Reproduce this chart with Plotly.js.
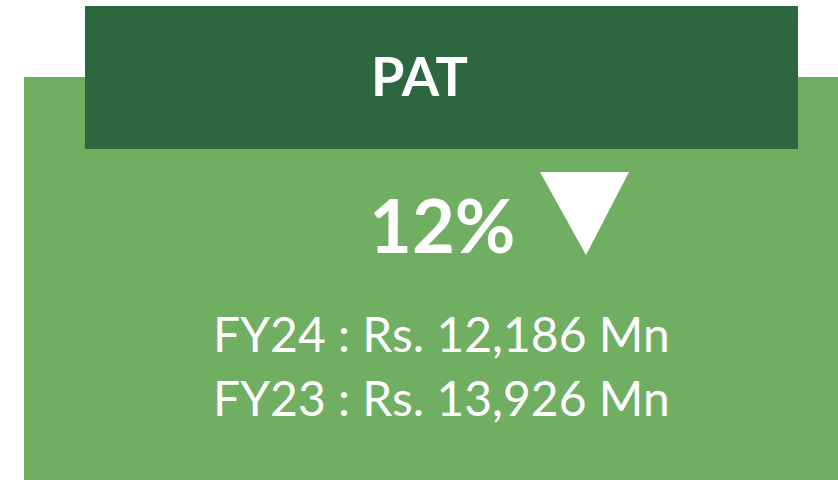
<!DOCTYPE html>
<html><head><meta charset="utf-8">
<script src="https://cdn.plot.ly/plotly-3.0.1.min.js"></script>
<style>html,body{margin:0;padding:0;background:#fff;}#chart{width:838px;height:480px;}</style>
</head><body><div id="chart"></div>
<script>
const metricLabel = ["PAT"];
const changePct = [12];
const changeDirection = ["down"];
const yearLabels = ["FY24", "FY23"];
const yearValues = [12186, 13926];
const unitPrefix = "Rs.";
const unitSuffix = "Mn";

const fmt = v => v.toLocaleString("en-US");
const white = "#ffffff";
const font = "Lato, 'Open Sans', sans-serif";

const annotations = [
  {x: 419, y: 75, text: "<b>" + metricLabel[0] + "</b>", font: {family: font, size: 54, color: white}},
  {x: 442, y: 224, text: "<b>" + changePct[0] + "%</b>", font: {family: font, size: 74, color: white}},
];
yearLabels.forEach((lab, i) => {
  annotations.push({x: 441, y: 333 + i * 64, text: lab + " : " + unitPrefix + " " + fmt(yearValues[i]) + " " + unitSuffix,
    font: {family: font, size: 48, color: white}});
});
annotations.forEach(a => { a.xref = "x"; a.yref = "y"; a.showarrow = false; a.xanchor = "center"; a.yanchor = "middle"; });

const tri = changeDirection[0] === "down" ? "M540,172 L629,172 L586,255 Z" : "M540,255 L629,255 L586,172 Z";

const layout = {
  width: 838, height: 480,
  margin: {l: 0, r: 0, t: 0, b: 0},
  paper_bgcolor: "#ffffff", plot_bgcolor: "#ffffff",
  xaxis: {range: [0, 838], visible: false, fixedrange: true},
  yaxis: {range: [480, 0], visible: false, fixedrange: true},
  showlegend: false,
  shapes: [
    {type: "rect", xref: "x", yref: "y", x0: 24, x1: 838, y0: 77, y1: 480, fillcolor: "#70AE61", line: {width: 0}, layer: "below"},
    {type: "rect", xref: "x", yref: "y", x0: 85, x1: 798, y0: 6, y1: 149, fillcolor: "#2C673F", line: {width: 0}, layer: "below"},
    {type: "path", xref: "x", yref: "y", path: tri, fillcolor: white, line: {width: 0}}
  ],
  annotations: annotations
};
Plotly.newPlot("chart", [{x: [0], y: [0], mode: "markers", marker: {opacity: 0}, hoverinfo: "skip"}], layout, {displayModeBar: false, staticPlot: true});
</script></body></html>
